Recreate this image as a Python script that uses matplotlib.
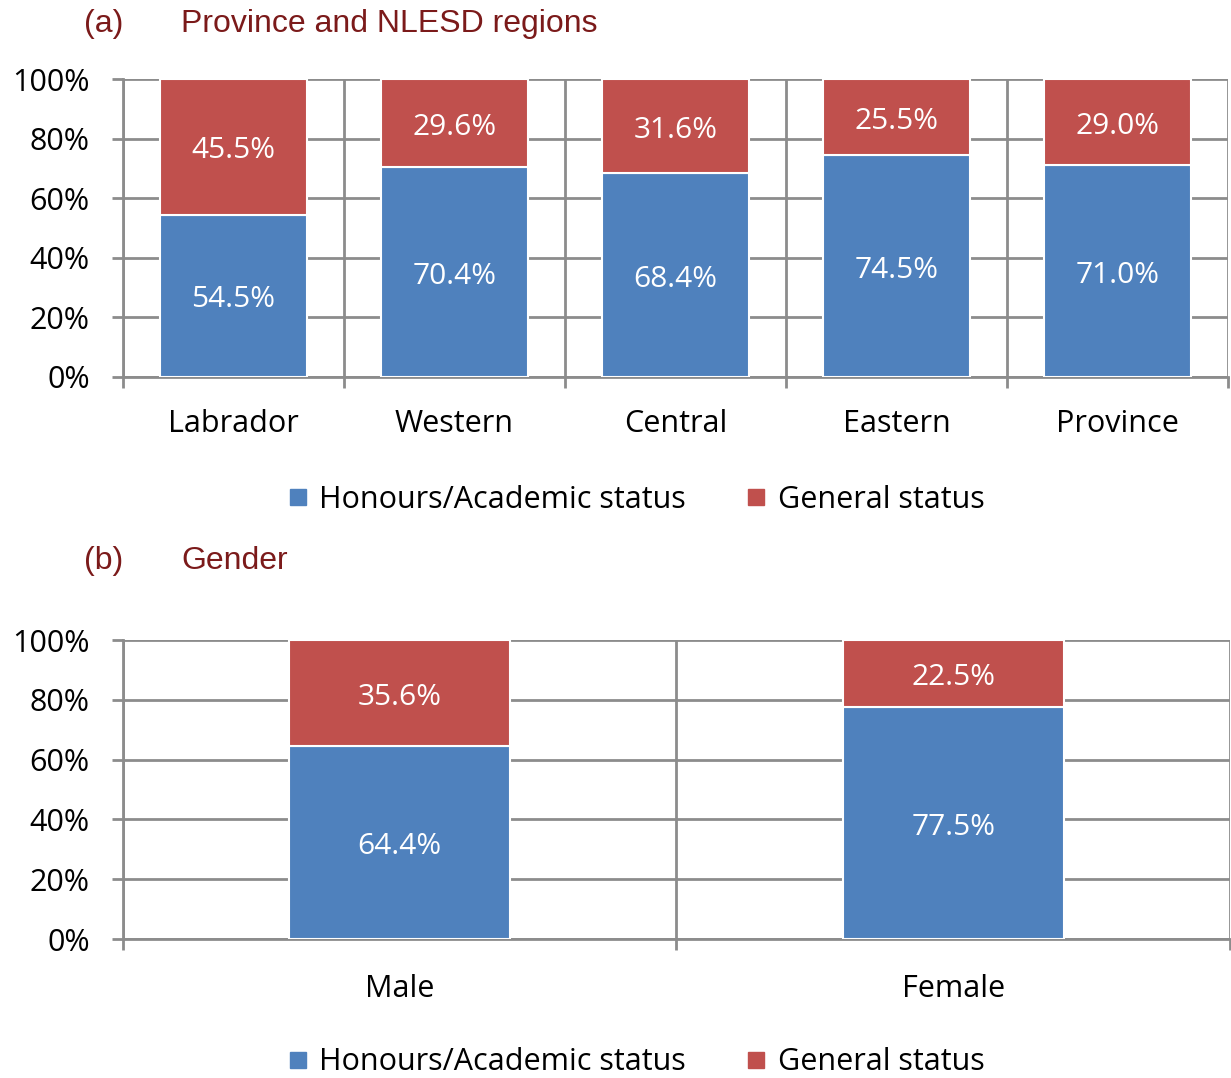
import matplotlib.pyplot as plt
import matplotlib.transforms as mtransforms
from matplotlib.lines import Line2D
import numpy as np

regions = ['Labrador', 'Western', 'Central', 'Eastern', 'Province']
reg_honours = [54.5, 70.4, 68.4, 74.5, 71.0]
reg_general = [45.5, 29.6, 31.6, 25.5, 29.0]

genders = ['Male', 'Female']
gen_honours = [64.4, 77.5]
gen_general = [35.6, 22.5]

series_names = ['Honours/Academic status', 'General status']

BLUE = '#4F81BD'
RED = '#C0504D'
GRID = '#8C8C8C'
TITLE_COL = '#7B1A1A'
LABEL_FONT = 'Open Sans'
TITLE_FONT = 'Liberation Sans'


def draw_panel(fig, ax, cats, honours, general, width, xpad):
    x = np.arange(len(cats))
    b1 = ax.bar(x, honours, width, color=BLUE, edgecolor='white', linewidth=1.5, zorder=3)
    b2 = ax.bar(x, general, width, bottom=honours, color=RED, edgecolor='white', linewidth=1.5, zorder=3)
    # nudge labels down a little, like the original
    trans = mtransforms.offset_copy(ax.transData, fig=fig, x=0, y=-3, units='points')
    for rect, v in zip(b1, honours):
        ax.text(rect.get_x() + rect.get_width() / 2, v / 2, f'{v:.1f}%', ha='center', va='center',
                color='white', fontsize=21.5, family=LABEL_FONT, zorder=4, transform=trans)
    for rect, h, v in zip(b2, honours, general):
        ax.text(rect.get_x() + rect.get_width() / 2, h + v / 2, f'{v:.1f}%', ha='center', va='center',
                color='white', fontsize=21.5, family=LABEL_FONT, zorder=4, transform=trans)

    ax.set_xlim(-0.5, len(cats) - 0.5)
    ax.set_ylim(0, 100)
    ax.set_yticks(range(0, 101, 20))
    ax.set_yticklabels([f'{v}%' for v in range(0, 101, 20)], fontsize=22, family=LABEL_FONT)
    ax.yaxis.grid(True, color=GRID, linewidth=2, zorder=0)
    for b in np.arange(-0.5, len(cats), 1.0):
        ax.axvline(b, color=GRID, linewidth=2, zorder=0)

    ax.set_xticks(x)
    ax.set_xticklabels(cats, fontsize=22, family=LABEL_FONT)
    ax.set_xticks(np.arange(-0.5, len(cats), 1.0), minor=True)
    ax.tick_params(axis='x', which='major', length=0, pad=xpad)
    ax.tick_params(axis='x', which='minor', length=8, width=2, color=GRID)
    ax.tick_params(axis='y', length=8, width=2, color=GRID, pad=16)

    for s in ['top', 'right']:
        ax.spines[s].set_visible(False)
    for s in ['left', 'bottom']:
        ax.spines[s].set_color(GRID)
        ax.spines[s].set_linewidth(2)


fig = plt.figure(figsize=(12.31, 10.78), dpi=100)

ax1 = fig.add_axes([0.0999, 0.6503, 0.8977, 0.2764])
draw_panel(fig, ax1, regions, reg_honours, reg_general, 0.665, 23)

ax2 = fig.add_axes([0.0999, 0.1289, 0.8993, 0.2774])
draw_panel(fig, ax2, genders, gen_honours, gen_general, 0.40, 25)

handles = [Line2D([], [], marker='s', linestyle='', markersize=11, color=c) for c in (BLUE, RED)]
for y in (0.536, 0.0145):
    fig.legend(handles, series_names, loc='center', bbox_to_anchor=(0.516, y), ncol=2, frameon=False,
               prop={'family': LABEL_FONT, 'size': 22}, handletextpad=0.3, columnspacing=1.9,
               handlelength=0.8)

for y, tag, title in ((0.978, '(a)', 'Province and NLESD regions'), (0.4795, '(b)', 'Gender')):
    fig.text(0.068, y, tag, color=TITLE_COL, fontsize=23, family=TITLE_FONT, va='center')
    fig.text(0.147, y, title, color=TITLE_COL, fontsize=23, family=TITLE_FONT, va='center')

fig.savefig('out.png', dpi=100)
